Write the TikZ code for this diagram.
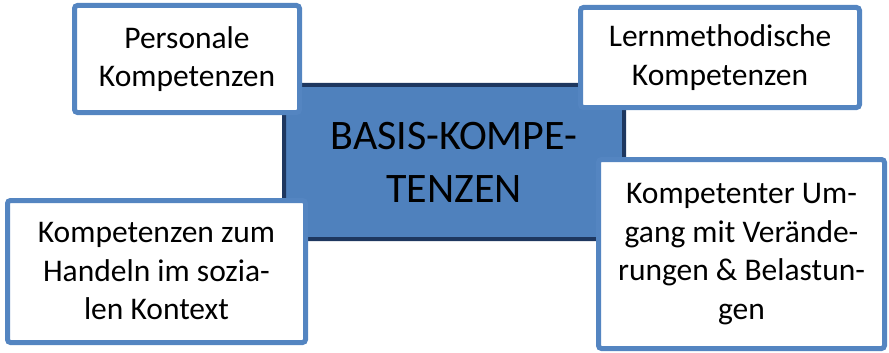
\documentclass[tikz,border=0pt]{standalone}
\usepackage{fontspec}
\setmainfont{Carlito}
\usepackage{tikz}
\usepackage{xcolor}
\usetikzlibrary{positioning}
\definecolor{corecolor}{RGB}{79,129,189}
\definecolor{coreborder}{RGB}{30,55,95}
\definecolor{sideborder}{RGB}{84,133,193}
\tikzstyle{corebox} = [rectangle, draw=coreborder, line width=4pt, fill=corecolor, align=center, rounded corners=5pt, font=\fontsize{42}{53}\selectfont]
\tikzstyle{sidebox} = [rectangle, draw=sideborder, line width=5pt, fill=white, align=center, rounded corners=3pt, font=\fontsize{31.5}{38.5}\selectfont]

\begin{document}
\begin{tikzpicture}[x=1pt, y=-1pt]
    \useasboundingbox (0,0) rectangle (889,353);
    % Centre
    \node[corebox, minimum width=340pt, minimum height=154pt] (basis) at (454,162) {BASIS-KOMPE-\\TENZEN};
    
    % Corner boxes
    \node[sidebox, minimum width=225pt, minimum height=107pt] (personal) at (187,59) {Personale\\Kompetenzen};
    \node[sidebox, minimum width=279pt, minimum height=100pt] (lern) at (720,57.5) {Lernmethodische\\Kompetenzen};
    \node[sidebox, minimum width=298pt, minimum height=142pt] (sozial) at (156.5,271.5) {Kompetenzen zum\\Handeln im sozia-\\len Kontext};
    \node[sidebox, minimum width=286pt, minimum height=189pt] (umgang) at (741.5,254) {Kompetenter Um-\\gang mit Verände-\\rungen \& Belastun-\\gen};
\end{tikzpicture}
\end{document}
